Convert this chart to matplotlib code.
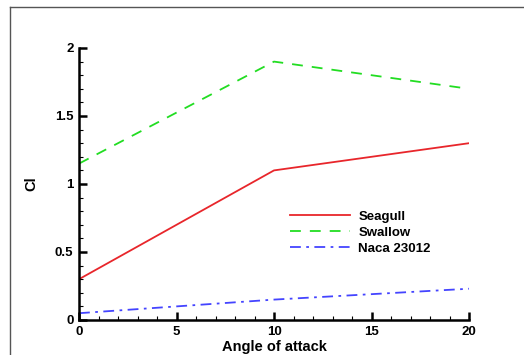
import matplotlib
matplotlib.use("Agg")
import matplotlib.pyplot as plt
from matplotlib.lines import Line2D
from matplotlib.ticker import MultipleLocator

plt.rcParams['font.family'] = ['Liberation Sans', 'DejaVu Sans']
plt.rcParams['font.weight'] = 'bold'

# datos
angle = [0, 10, 20]
seagull = [0.3, 1.1, 1.3]
swallow = [1.15, 1.9, 1.7]
naca = [0.05, 0.15, 0.23]

fig = plt.figure(figsize=(5.24, 3.55), dpi=100)
ax = fig.add_axes([79/524, 1 - 320/355, 390/524, 272/355])

ax.plot(angle, seagull, color='#e8262b', lw=1.3, label='Seagull')
ax.plot(angle, swallow, color='#22dd22', lw=1.3, ls=(0, (6, 5)), label='Swallow')
ax.plot(angle, naca, color='#4444ff', lw=1.3, ls=(0, (6, 3, 1.5, 3)), label='Naca 23012')

ax.set_xlim(0, 20)
ax.set_ylim(0, 2)
ax.xaxis.set_major_locator(MultipleLocator(5))
ax.xaxis.set_minor_locator(MultipleLocator(1))
ax.yaxis.set_major_locator(MultipleLocator(0.5))
ax.yaxis.set_minor_locator(MultipleLocator(0.1))
ax.set_yticks([0, 0.5, 1, 1.5, 2])
ax.set_yticklabels(['0', '0.5', '1', '1.5', '2'])

for s in ['top', 'right']:
    ax.spines[s].set_visible(False)
for s in ['left', 'bottom']:
    ax.spines[s].set_linewidth(1.8)

ax.tick_params(which='major', direction='in', length=6, width=1.8, labelsize=9.5, pad=4)
ax.tick_params(which='minor', direction='in', length=3, width=0.8)
ax.set_xlabel('Angle of attack', fontsize=10.5, fontweight='bold', labelpad=2)
ax.set_ylabel('Cl', fontsize=10.5, fontweight='bold', labelpad=12)

ax.legend(loc='upper left', bbox_to_anchor=(0.51, 0.445), frameon=False,
          fontsize=9.5, handlelength=4.6, handletextpad=0.6, labelspacing=0.28)

# marco gris
fig.add_artist(Line2D([10/524, 1], [1 - 7/355, 1 - 7/355], color='#555555', lw=1))
fig.add_artist(Line2D([10/524, 10/524], [0, 1 - 7/355], color='#555555', lw=1))

plt.savefig("out.png")
plt.close()
